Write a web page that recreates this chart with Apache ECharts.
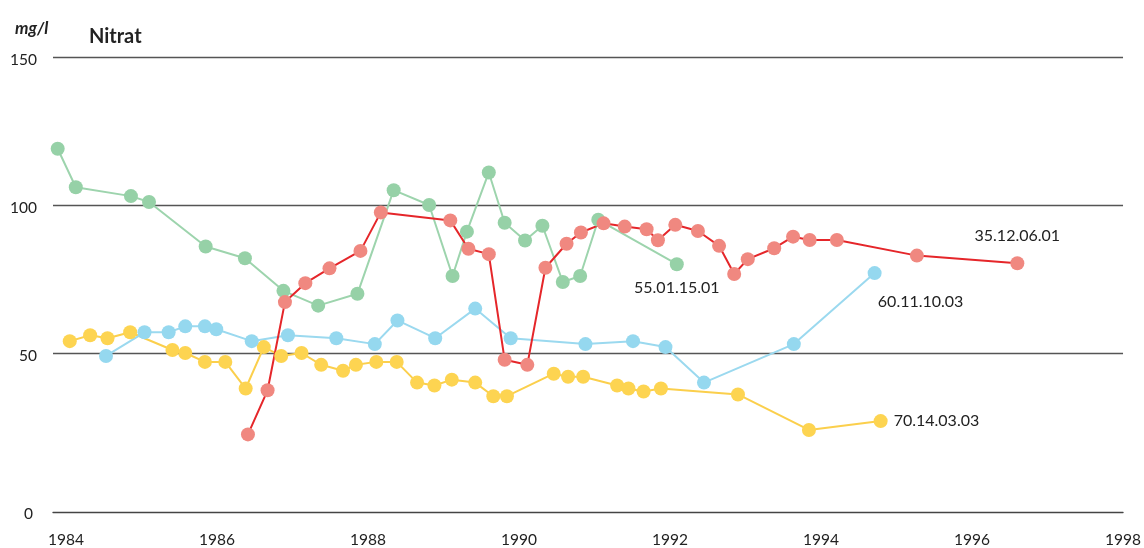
<!DOCTYPE html>
<html>
<head>
<meta charset="utf-8">
<script src="https://cdn.jsdelivr.net/npm/echarts@6/dist/echarts.min.js"></script>
<style>
    html, body { margin: 0; padding: 0; background: #fff; }
    #main { width: 1144px; height: 548px; }
</style>
</head>
<body>
<div id="main"></div>
<script>
var yearTicks = [1984, 1986, 1988, 1990, 1992, 1994, 1996, 1998];
var valueTicks = [0, 50, 100, 150];

// 55.01.15.01
var greenDates = [1983.89, 1984.13, 1984.86, 1985.10, 1985.85, 1986.37, 1986.88, 1987.34, 1987.86, 1988.34, 1988.81,
    1989.12, 1989.31, 1989.60, 1989.81, 1990.08, 1990.31, 1990.58, 1990.81, 1991.05, 1992.09];
var greenValues = [119, 106, 103, 101, 86, 82, 71, 66, 70, 105, 100, 76, 91, 111, 94, 88, 93, 74, 76, 95, 80];

// 35.12.06.01
var redDates = [1986.41, 1986.67, 1986.90, 1987.17, 1987.49, 1987.90, 1988.17, 1989.09, 1989.33, 1989.60, 1989.81,
    1990.11, 1990.35, 1990.63, 1990.82, 1991.12, 1991.40, 1991.69, 1991.84, 1992.07, 1992.37, 1992.65, 1992.85,
    1993.03, 1993.38, 1993.63, 1993.85, 1994.21, 1995.27, 1996.60];
var redValues = [22.5, 37.4, 67.2, 73.6, 78.6, 84.5, 97.5, 94.8, 85.2, 83.4, 47.7, 46, 78.8, 86.9, 90.7, 93.8, 92.7,
    91.8, 88.1, 93.3, 91.2, 86.2, 76.7, 81.7, 85.4, 89.3, 88.2, 88.2, 82.9, 80.3];

// 60.11.10.03
var blueDates = [1984.53, 1985.04, 1985.36, 1985.58, 1985.84, 1985.99, 1986.46, 1986.94, 1987.58, 1988.09, 1988.39,
    1988.89, 1989.42, 1989.89, 1990.88, 1991.51, 1991.94, 1992.45, 1993.64, 1994.71];
var blueValues = [49, 57, 57, 59, 59, 58, 54, 56, 55, 53, 61, 55, 65, 55, 53, 54, 52, 40, 53, 77];

// 70.14.03.03
var yellowDates = [1984.05, 1984.32, 1984.55, 1984.85, 1985.41, 1985.58, 1985.84, 1986.11, 1986.38, 1986.62, 1986.85,
    1987.12, 1987.38, 1987.67, 1987.84, 1988.11, 1988.38, 1988.65, 1988.88, 1989.11, 1989.42, 1989.66, 1989.84,
    1990.46, 1990.65, 1990.85, 1991.30, 1991.45, 1991.65, 1991.88, 1992.90, 1993.84, 1994.79];
var yellowValues = [54, 56, 55, 57, 51, 50, 47, 47, 38, 52, 49, 50, 46, 44, 46, 47, 47, 40, 39, 41, 40, 35.4, 35.4,
    43, 42, 42, 39, 38, 37, 38, 36, 24, 27];

var font = 'Lato';

function buildData(dates, values, label) {
    return dates.map(function (d, i) {
        var item = { value: [d, values[i]] };
        if (i === dates.length - 1) {
            item.label = Object.assign({
                show: true,
                formatter: '{a}',
                color: '#222',
                fontFamily: font,
                fontSize: 16
            }, label);
        }
        return item;
    });
}

function makeSeries(name, dates, values, pointColor, lineColor, label) {
    return {
        name: name,
        type: 'line',
        symbol: 'circle',
        symbolSize: 14,
        itemStyle: { color: pointColor },
        lineStyle: { color: lineColor, width: 2 },
        data: buildData(dates, values, label)
    };
}

var myChart = echarts.init(document.getElementById('main'), null, { renderer: 'canvas' });

var option = {
    animation: false,
    title: [
        {
            text: 'mg/l',
            left: 10,
            top: 15,
            textStyle: { fontFamily: font, fontSize: 17, fontWeight: 'bold', fontStyle: 'italic', color: '#222' }
        },
        {
            text: 'Nitrat',
            left: 84,
            top: 22,
            textStyle: { fontFamily: font, fontSize: 20, fontWeight: 'bold', color: '#222' }
        }
    ],
    grid: {
        left: 53,
        right: 19,
        top: 57,
        bottom: 46
    },
    xAxis: {
        type: 'value',
        min: 1983.828,
        max: 1998,
        offset: 11,
        axisLine: { show: true, onZero: false, lineStyle: { color: '#444', width: 1.3 } },
        axisTick: { show: false },
        splitLine: { show: false },
        axisLabel: {
            customValues: yearTicks,
            margin: 20,
            color: '#222',
            fontFamily: font,
            fontSize: 15.5,
            formatter: function (v) { return String(v); }
        }
    },
    yAxis: {
        type: 'value',
        min: 0,
        max: 150,
        interval: 50,
        axisLine: { show: false },
        axisTick: { show: false },
        splitLine: {
            show: true,
            showMinLine: false,
            lineStyle: { color: '#555', width: 1.3 }
        },
        axisLabel: {
            customValues: valueTicks,
            margin: 16,
            color: '#222',
            fontFamily: font,
            fontSize: 15.5,
            formatter: function (v) {
                return v === 0 ? '{z|0}' : '{n|' + v + '}';
            },
            rich: {
                n: { fontFamily: font, fontSize: 15.5, color: '#222', padding: [6, 0, 0, 0] },
                z: { fontFamily: font, fontSize: 15.5, color: '#222', padding: [26, 4, 0, 0] }
            }
        }
    },
    series: [
        makeSeries('70.14.03.03', yellowDates, yellowValues, '#fdd451', '#fbcf4c',
            { position: 'right', distance: 6 }),
        makeSeries('60.11.10.03', blueDates, blueValues, '#95d8ef', '#9bd9ef',
            { position: 'bottom', distance: 14, offset: [46, 0] }),
        makeSeries('55.01.15.01', greenDates, greenValues, '#96d1a7', '#9dd4ad',
            { position: 'bottom', distance: 9 }),
        makeSeries('35.12.06.01', redDates, redValues, '#f08880', '#e5262a',
            { position: 'top', distance: 12 })
    ]
};

myChart.setOption(option);
window.addEventListener('resize', myChart.resize);
</script>
</body>
</html>
